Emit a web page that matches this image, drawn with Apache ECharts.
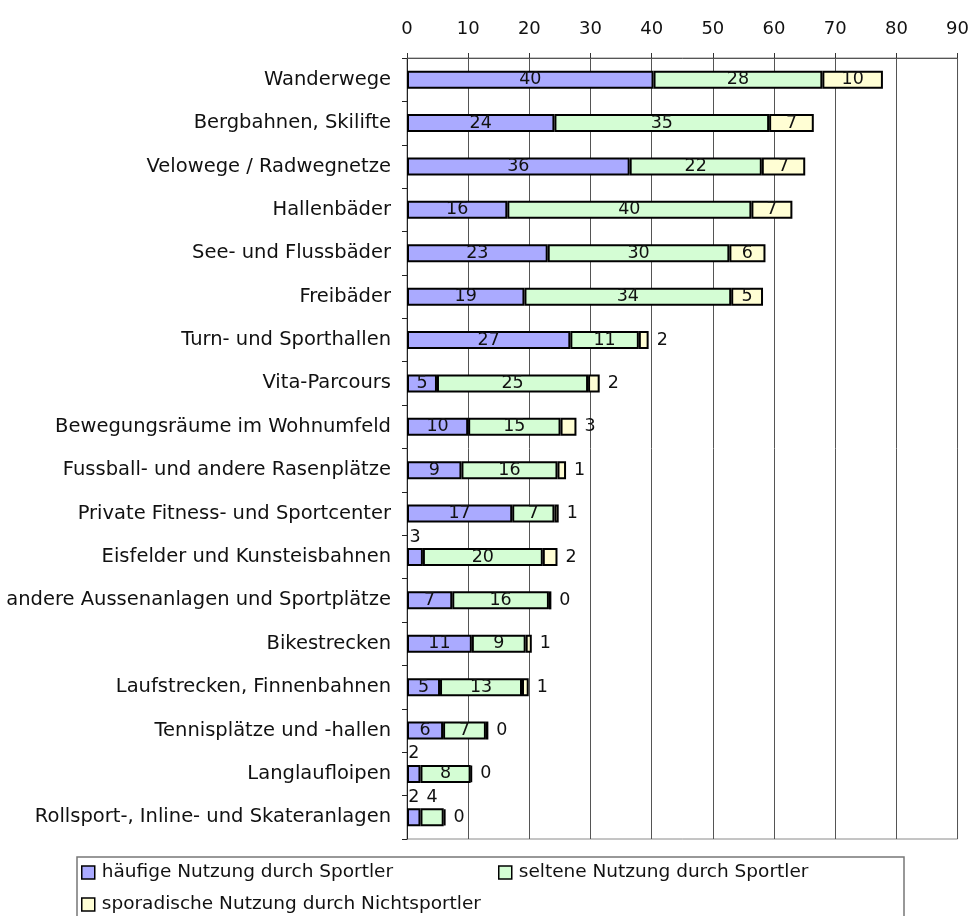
<!DOCTYPE html>
<html>
<head>
<meta charset="utf-8">
<script src="https://cdn.jsdelivr.net/npm/echarts@6/dist/echarts.min.js"></script>
<style>
  html, body { margin: 0; padding: 0; background: #fff; }
  #chart { width: 972px; height: 916px; }
</style>
</head>
<body>
<div id="chart"></div>
<script>
// Anlagen (von oben nach unten)
const categories = [
  'Wanderwege',
  'Bergbahnen, Skilifte',
  'Velowege / Radwegnetze',
  'Hallenbäder',
  'See- und Flussbäder',
  'Freibäder',
  'Turn- und Sporthallen',
  'Vita-Parcours',
  'Bewegungsräume im Wohnumfeld',
  'Fussball- und andere Rasenplätze',
  'Private Fitness- und Sportcenter',
  'Eisfelder und Kunsteisbahnen',
  'andere Aussenanlagen und Sportplätze',
  'Bikestrecken',
  'Laufstrecken, Finnenbahnen',
  'Tennisplätze und -hallen',
  'Langlaufloipen',
  'Rollsport-, Inline- und Skateranlagen'
];
const seriesNames = [
  'häufige Nutzung durch Sportler',
  'seltene Nutzung durch Sportler',
  'sporadische Nutzung durch Nichtsportler'
];
const haeufig =    [40.3, 24.1, 36.4, 16.4, 23.0, 19.2, 26.7, 4.9, 10.0, 8.9, 17.2, 2.6, 7.4, 10.6, 5.4, 5.9, 2.2, 2.2];
const selten =     [27.6, 35.1, 21.6, 39.9, 29.7, 33.8, 11.2, 24.7, 15.1, 15.7, 6.9, 19.6, 15.8, 8.8, 13.4, 7.0, 8.2, 3.8];
const sporadisch = [9.9, 7.3, 7.1, 6.7, 5.9, 5.2, 1.6, 1.9, 2.6, 1.4, 0.7, 2.4, 0.4, 1.0, 1.1, 0.4, 0.2, 0.3];
const xTicks = [0, 90, 10]; // min, max, interval
const colors = ['#AAAAFF', '#D4FDD4', '#FFFED4'];

const FONT = 'DejaVu Sans';

// kleine Segmente: Beschriftung ausserhalb
function items(values, limit, pos, dist) {
  return values.map(v => v < limit
    ? { value: v, label: { position: pos, distance: dist } }
    : v);
}

// eine Legende pro Eintrag, damit sie wie im Original stehen
function legendAt(name, left, top) {
  return {
    left: left, top: top,
    padding: 0,
    itemWidth: 13, itemHeight: 13,
    icon: 'rect',
    itemStyle: { borderColor: '#000', borderWidth: 1.5 },
    textStyle: { fontFamily: FONT, fontSize: 18.5, color: '#111', padding: [0, 0, 0, 2] },
    data: [name]
  };
}

const chart = echarts.init(document.getElementById('chart'));

const option = {
  animation: false,
  color: colors,
  grid: {
    left: 407, right: 14, top: 58, bottom: 77,
    show: true, borderColor: '#8a8a8a', borderWidth: 1
  },
  graphic: [{
    type: 'rect',
    shape: { x: 77, y: 857, width: 827, height: 80 },
    style: { fill: 'none', stroke: '#777', lineWidth: 1.5 },
    silent: true
  }],
  legend: [
    legendAt(seriesNames[0], 81, 863),
    legendAt(seriesNames[1], 498, 863),
    legendAt(seriesNames[2], 81, 895)
  ],
  xAxis: {
    type: 'value',
    position: 'top',
    min: xTicks[0], max: xTicks[1], interval: xTicks[2],
    axisLine: { show: true, lineStyle: { color: '#555', width: 1 } },
    axisTick: { show: true, length: 5, lineStyle: { color: '#333' } },
    axisLabel: { fontFamily: FONT, fontSize: 18, color: '#111', margin: 20 },
    splitLine: { show: true, lineStyle: { color: '#555', width: 1 } }
  },
  yAxis: {
    type: 'category',
    inverse: true,
    data: categories,
    axisLine: { show: true, lineStyle: { color: '#222', width: 1 } },
    axisTick: { show: true, length: 5, lineStyle: { color: '#222' } },
    axisLabel: { fontFamily: FONT, fontSize: 19.5, color: '#111', margin: 16 }
  },
  series: [
    { name: seriesNames[0], data: items(haeufig, 4, 'top', 2) },
    { name: seriesNames[1], data: items(selten, 5, 'top', 2) },
    { name: seriesNames[2], data: items(sporadisch, 4, 'right', 8) }
  ].map(s => Object.assign({
    type: 'bar',
    stack: 'total',
    barWidth: 18,
    itemStyle: { borderColor: '#000', borderWidth: 2 },
    label: {
      show: true,
      position: 'inside',
      fontFamily: FONT,
      fontSize: 17.5,
      color: '#111',
      formatter: p => Math.round(p.value)
    }
  }, s))
};

chart.setOption(option);
</script>
</body>
</html>
